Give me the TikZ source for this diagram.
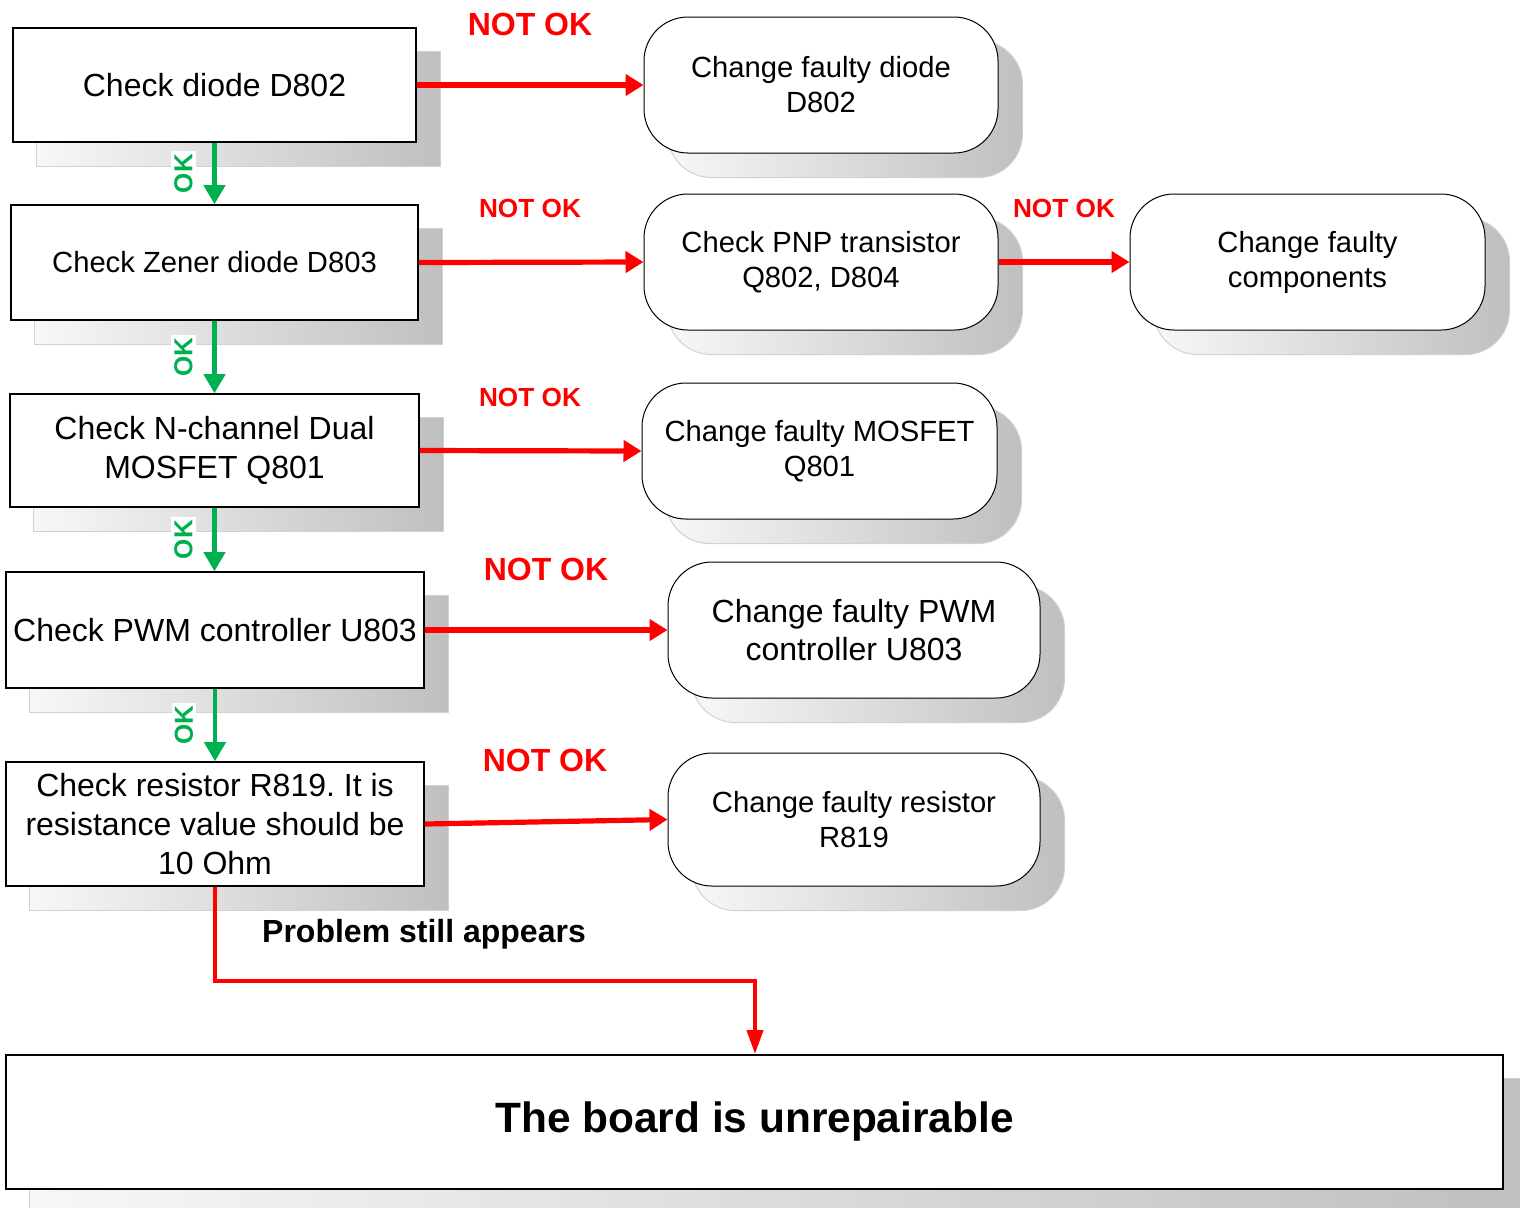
\documentclass[tikz,border=0pt]{standalone}
\usepackage{fontspec}
\setmainfont{Liberation Sans}
\usetikzlibrary{arrows.meta,backgrounds}
\definecolor{okgreen}{RGB}{0,176,80}
\definecolor{nored}{RGB}{255,0,0}
\frenchspacing
\begin{document}
\begin{tikzpicture}[x=0.5pt,y=-0.5pt,
  sz/.style 2 args={minimum width=#1*0.5pt, minimum height=#2*0.5pt},
  big/.style={font=\fontsize{16}{19.3}\selectfont},
  small/.style={font=\fontsize{14.6}{17.5}\selectfont},
  chk/.style={draw=black,line width=0.8pt,fill=white,inner sep=0pt,align=center,big},
  chg/.style={draw=black,line width=0.5pt,fill=white,rounded corners=22pt,inner sep=0pt,align=center,small},
  shadowsh/.style={left color=black!3,right color=black!25,draw=black!18,line width=0.5pt},
  redarrow/.style={draw=nored,line width=2.6pt,-{Triangle[length=9pt,width=10.5pt]}},
  greenarrow/.style={draw=okgreen,line width=2.2pt,-{Triangle[length=9.5pt,width=10.5pt]}},
  oklab/.style={fill=white,text=okgreen,inner sep=1.5pt,rotate=90,font=\bfseries\fontsize{13}{15}\selectfont},
  nolab/.style={text=nored,inner sep=0pt,font=\bfseries\fontsize{16}{19}\selectfont},
  nolabs/.style={text=nored,inner sep=0pt,font=\bfseries\fontsize{13.1}{15}\selectfont}]
\useasboundingbox (0,0) rectangle (1520,1207);
\clip (0,0) rectangle (1520,1207);

% check boxes
\node[chk,sz={403}{114}] (b1) at (214.5,85) {Check diode D802};
\node[chk,small,sz={407}{115}] (b2) at (214.5,262.5) {Check Zener diode D803};
\node[chk,sz={409}{113}] (b3) at (214.5,450.5) {Check N-channel Dual\\MOSFET Q801};
\node[chk,sz={418}{116}] (b4) at (215,630) {Check PWM controller U803};
\node[chk,sz={418}{124}] (b5) at (215,824) {Check resistor R819. It is\\resistance value should be\\10 Ohm};
\node[chk,line width=1pt,sz={1497}{134},font=\bfseries\fontsize{21.2}{25}\selectfont] (fin) at (754.5,1122) {The board is unrepairable};

% change boxes
\node[chg,sz={354}{136}] (r1) at (821,85) {Change faulty diode\\D802};
\node[chg,sz={354}{136}] (r2) at (821,262) {Check PNP transistor\\Q802, D804};
\node[chg,sz={355}{136}] (r3) at (1307.5,262) {Change faulty\\components};
\node[chg,sz={355}{136}] (r4) at (819.5,451) {Change faulty MOSFET\\Q801};
\node[chg,big,sz={372}{136}] (r5) at (854,630) {Change faulty PWM\\controller U803};
\node[chg,sz={372}{133}] (r6) at (854,819.5) {Change faulty resistor\\R819};

% shadows
\begin{scope}[on background layer]
  \foreach \n in {b1,b2,b3,b4,b5,fin}
    \shade[shadowsh] ([shift={(24,24)}]\n.south west) rectangle ([shift={(24,24)}]\n.north east);
  \foreach \n in {r1,r2,r3,r4,r5,r6}
    \shade[shadowsh,rounded corners=22pt] ([shift={(24,24)}]\n.south west) rectangle ([shift={(24,24)}]\n.north east);
\end{scope}

% NOT OK arrows
\draw[redarrow] (b1.east) -- (r1.west);
\draw[redarrow] (b2.east) -- (r2.west);
\draw[redarrow] (r2.east) -- (r3.west);
\draw[redarrow] (b3.east) -- (r4.west);
\draw[redarrow] (b4.east) -- (r5.west);
\draw[redarrow] (b5.east) -- (r6.west);

\node[nolab] (n1) at (530,24) {NOT OK};
\node[nolabs] (n2) at (530,208) {NOT OK};
\node[nolabs] (n3) at (1064,208) {NOT OK};
\node[nolabs] (n4) at (530,397) {NOT OK};
\node[nolab] (n5) at (546,569) {NOT OK};
\node[nolab] (n6) at (545,760) {NOT OK};

% OK arrows
\path (b1.south) -- (b1.south |- b2.north) coordinate[midway] (m1);
\path (b2.south) -- (b2.south |- b3.north) coordinate[midway] (m2);
\path (b3.south) -- (b3.south |- b4.north) coordinate[midway] (m3);
\path (b4.south) -- (b4.south |- b5.north) coordinate[midway] (m4);
\node[oklab] (o1) at ([xshift=-15.5pt]m1) {OK};
\node[oklab] (o2) at ([xshift=-15.5pt]m2) {OK};
\node[oklab] (o3) at ([xshift=-15.5pt]m3) {OK};
\node[oklab] (o4) at ([xshift=-15.5pt]m4) {OK};
\draw[greenarrow] (b1.south) -- (b1.south |- b2.north);
\draw[greenarrow] (b2.south) -- (b2.south |- b3.north);
\draw[greenarrow] (b3.south) -- (b3.south |- b4.north);
\draw[greenarrow] (b4.south) -- (b4.south |- b5.north);

% final path
\coordinate (k) at (755,981);
\draw[draw=nored,line width=2pt,-{Triangle[length=12pt,width=8pt]}] (b5.south) |- (k) -- (k |- fin.north);
\node[inner sep=0pt,font=\bfseries\fontsize{16}{19}\selectfont] (pl) at (424,934) {Problem still appears};
\end{tikzpicture}
\end{document}
